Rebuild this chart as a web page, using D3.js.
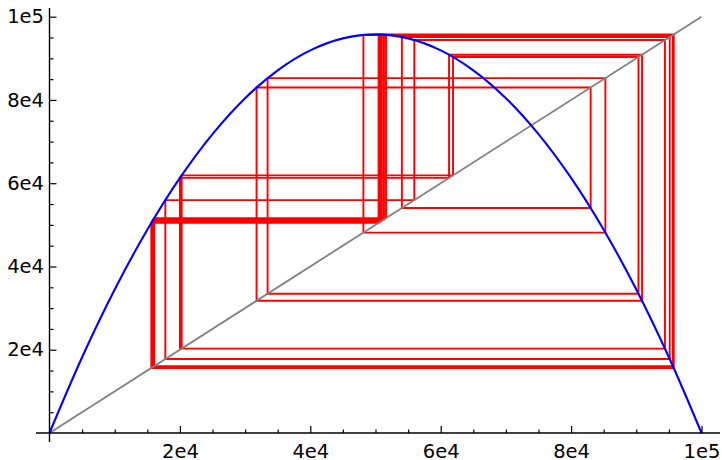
<!DOCTYPE html>
<html>
<head>
<meta charset="utf-8">
<script src="https://cdn.jsdelivr.net/npm/d3@7"></script>
<style>
  html, body { margin: 0; padding: 0; background: #fff; }
  svg { display: block; }
  text { font-family: "DejaVu Sans", sans-serif; }
</style>
</head>
<body>
<svg id="chart" width="722" height="460"></svg>
<script>
// Logistic map f(x) = r·x·(1 − x/K), sampled every 5000
const curveX = [0, 5000, 10000, 15000, 20000, 25000, 30000, 35000, 40000, 45000, 50000,
                55000, 60000, 65000, 70000, 75000, 80000, 85000, 90000, 95000, 100000];
const curveY = [0, 18190, 34470, 48830, 61280, 71810, 80430, 87130, 91920, 94790, 95750,
                94790, 91920, 87130, 80430, 71810, 61280, 48830, 34470, 18190, 0];

// Reference line y = x
const diagX = [0, 100000];
const diagY = [0, 100000];

// Orbit x0, x1, x2, ... (starts at 20000, settles onto the 3-cycle)
const orbit = [20000, 61280, 90877, 31754, 82999, 54043, 95124, 17764, 55951, 94394,
               20268, 61893, 90332, 33447, 85256, 48144, 95617, 16051, 51608, 95651,
               15932, 51299, 95685, 15812, 50984, 95713, 15716, 50732, 95730, 15658,
               50579, 95737, 15631, 50508, 95740, 15620, 50481, 95741, 15617, 50471,
               95741, 15616];

// Axis ticks
const majorTicks = [20000, 40000, 60000, 80000, 100000];
const tickLabels = ["2e4", "4e4", "6e4", "8e4", "1e5"];
const minorTicks = [5000, 10000, 15000, 25000, 30000, 35000, 45000, 50000, 55000,
                    65000, 70000, 75000, 85000, 90000, 95000];

const svg = d3.select("#chart");

const x = d3.scaleLinear().domain([0, 100000]).range([49.5, 701.5]);
const y = d3.scaleLinear().domain([0, 100000]).range([433, 16.7]);

// Cobweb: vertical to the curve, then horizontal to the diagonal
const web = [[orbit[0], orbit[0]]];
for (let i = 0; i < orbit.length - 1; i++) {
  web.push([orbit[i], orbit[i + 1]]);
  web.push([orbit[i + 1], orbit[i + 1]]);
}

svg.append("path")
  .datum(web)
  .attr("fill", "none")
  .attr("stroke", "#ff0000")
  .attr("stroke-width", 1.9)
  .attr("stroke-linejoin", "miter")
  .attr("d", d3.line().x(d => x(d[0])).y(d => y(d[1])));

svg.append("path")
  .datum(d3.zip(diagX, diagY))
  .attr("fill", "none")
  .attr("stroke", "#808080")
  .attr("stroke-width", 1.8)
  .attr("d", d3.line().x(d => x(d[0])).y(d => y(d[1])));

svg.append("path")
  .datum(d3.zip(curveX, curveY))
  .attr("fill", "none")
  .attr("stroke", "#0000ff")
  .attr("stroke-width", 2.1)
  .attr("d", d3.line().curve(d3.curveCatmullRom.alpha(0.5)).x(d => x(d[0])).y(d => y(d[1])));

// Axes crossing at the origin
const axisColor = "#000";
const gx = svg.append("g").attr("transform", `translate(0,${y(0)})`);
gx.append("g").call(d3.axisBottom(x).tickValues(minorTicks).tickSize(-3.5).tickFormat(""))
  .call(g => g.select(".domain").remove());
gx.append("g").call(d3.axisBottom(x).tickValues(majorTicks).tickSize(-7).tickPadding(11)
    .tickFormat((d, i) => tickLabels[i]))
  .call(g => g.select(".domain").remove());
gx.append("line").attr("x1", 36).attr("x2", 720).attr("y1", 0).attr("y2", 0);

const gy = svg.append("g").attr("transform", `translate(${x(0)},0)`);
gy.append("g").call(d3.axisLeft(y).tickValues(minorTicks).tickSize(-4).tickFormat(""))
  .call(g => g.select(".domain").remove());
gy.append("g").call(d3.axisLeft(y).tickValues(majorTicks).tickSize(-7).tickPadding(5.5)
    .tickFormat((d, i) => tickLabels[i]))
  .call(g => g.select(".domain").remove());
gy.append("line").attr("x1", 0).attr("x2", 0).attr("y1", 8).attr("y2", 442);

svg.selectAll(".tick line").attr("stroke", axisColor).attr("stroke-width", 1.2);
svg.selectAll("g > line").filter(function () { return !this.parentNode.classList.contains("tick"); })
  .attr("stroke", axisColor).attr("stroke-width", 1.4);
svg.selectAll(".tick text")
  .attr("font-family", "DejaVu Sans, sans-serif")
  .attr("font-size", 19.5)
  .attr("fill", "#000");
</script>
</body>
</html>
